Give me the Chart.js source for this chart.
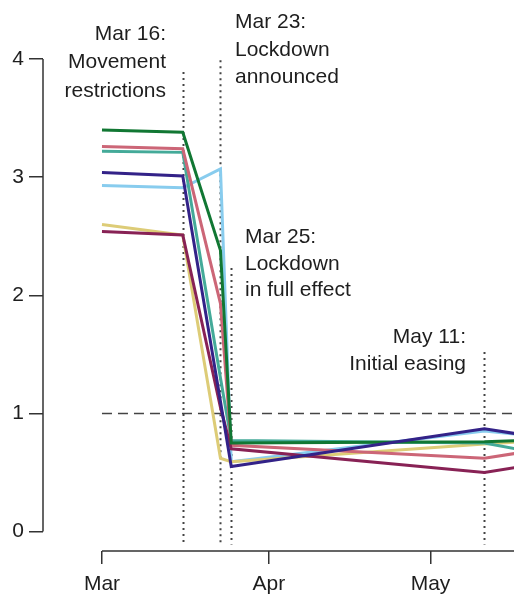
<!DOCTYPE html>
<html>
<head>
<meta charset="utf-8">
<script src="https://cdn.jsdelivr.net/npm/chart.js@4"></script>
<style>
  html, body { margin: 0; padding: 0; background: #fff; }
  #wrap { width: 514px; height: 600px; position: relative; }
</style>
</head>
<body>
<div id="wrap"><canvas id="chart"></canvas></div>
<script>
// days counted from Mar 1 (= 0)
const days = [0, 15, 22, 24, 71, 78];

// one series per region
const green  = [3.40, 3.38, 2.38, 0.75, 0.76, 0.77];
const rose   = [3.26, 3.24, 1.93, 0.73, 0.62, 0.67];
const teal   = [3.22, 3.21, 1.30, 0.77, 0.75, 0.69];
const indigo = [3.04, 3.01, 1.10, 0.55, 0.87, 0.82];
const cyan   = [2.93, 2.91, 3.07, 0.59, 0.85, 0.82];
const sand   = [2.60, 2.51, 0.62, 0.59, 0.74, 0.76];
const wine   = [2.54, 2.51, 1.05, 0.70, 0.50, 0.55];

// axis ticks
const yTicks = [0, 1, 2, 3, 4];
const xTicks = [0, 31, 61];
const xTickLabels = ["Mar", "Apr", "May"];

// events (vertical dotted lines) and their notes
const eventDays = [15, 22, 24, 71];
const eventTops = [3.89, 3.99, 2.23, 1.52];
const threshold = 1;

const FONT = "Liberation Sans, Arial, Helvetica, sans-serif";
const INK = "#1e1e1e";

function toPoints(vals) {
  return vals.map((v, i) => ({ x: days[i], y: v }));
}

// first dataset ends up on top
const series = [
  { data: indigo, color: "#332288" },
  { data: green, color: "#117733" },
  { data: wine, color: "#882255" },
  { data: rose, color: "#CC6677" },
  { data: teal, color: "#44AA99" },
  { data: sand, color: "#DDCC77" },
  { data: cyan, color: "#88CCEE" },
];

// dashed line, dotted event lines, detached axis lines and the notes
const notesPlugin = {
  id: "notes",
  beforeDatasetsDraw(chart) {
    const ctx = chart.ctx;
    const x = chart.scales.x;
    const y = chart.scales.y;
    ctx.save();

    // horizontal dashed line at 1
    ctx.strokeStyle = "#444";
    ctx.lineWidth = 1.5;
    ctx.setLineDash([10, 6]);
    ctx.beginPath();
    ctx.moveTo(x.getPixelForValue(0), y.getPixelForValue(threshold));
    ctx.lineTo(chart.chartArea.right, y.getPixelForValue(threshold));
    ctx.stroke();

    // dotted vertical lines
    ctx.lineWidth = 2;
    ctx.setLineDash([2, 4]);
    eventDays.forEach((d, i) => {
      const px = Math.round(x.getPixelForValue(d)) + 0.5;
      ctx.beginPath();
      ctx.moveTo(px, y.getPixelForValue(eventTops[i]));
      ctx.lineTo(px, y.getPixelForValue(-0.11));
      ctx.stroke();
    });
    ctx.restore();
  },
  afterDraw(chart) {
    const ctx = chart.ctx;
    const x = chart.scales.x;
    const y = chart.scales.y;
    const area = chart.chartArea;
    ctx.save();

    // axis lines only between first and last tick, R style
    ctx.strokeStyle = "#333";
    ctx.lineWidth = 1.5;
    ctx.beginPath();
    ctx.moveTo(area.left, y.getPixelForValue(0));
    ctx.lineTo(area.left, y.getPixelForValue(4));
    ctx.moveTo(x.getPixelForValue(0), area.bottom);
    ctx.lineTo(area.right, area.bottom);
    ctx.stroke();

    // notes
    ctx.fillStyle = INK;
    ctx.font = "21px " + FONT;
    ctx.textBaseline = "alphabetic";

    ctx.textAlign = "right";
    ["Mar 16:", "Movement", "restrictions"].forEach((t, i) => ctx.fillText(t, 166, 40 + i * 28.3));
    ["May 11:", "Initial easing"].forEach((t, i) => ctx.fillText(t, 466, 343 + i * 26.5));

    ctx.textAlign = "left";
    ["Mar 23:", "Lockdown", "announced"].forEach((t, i) => ctx.fillText(t, 235, 28 + i * 27.5));
    ["Mar 25:", "Lockdown", "in full effect"].forEach((t, i) => ctx.fillText(t, 245, 243 + i * 26.5));

    ctx.restore();
  },
};

new Chart(document.getElementById("chart"), {
  type: "line",
  data: {
    datasets: series.map((s) => ({
      data: toPoints(s.data),
      borderColor: s.color,
      backgroundColor: s.color,
      borderWidth: 3,
      pointRadius: 0,
      tension: 0,
      fill: false,
    })),
  },
  options: {
    responsive: true,
    maintainAspectRatio: false,
    devicePixelRatio: 1,
    animation: false,
    layout: { padding: 0 },
    plugins: {
      legend: { display: false },
      tooltip: { enabled: false },
    },
    scales: {
      x: {
        type: "linear",
        min: -10.95,
        max: 76.5,
        afterBuildTicks: (scale) => {
          scale.ticks = xTicks.map((v) => ({ value: v }));
        },
        afterFit: (scale) => {
          scale.height = 49;
          scale.paddingLeft = 0;
          scale.paddingRight = 0;
        },
        border: { display: false },
        grid: {
          drawOnChartArea: false,
          drawTicks: true,
          tickLength: 13,
          color: "#333",
          lineWidth: 1.5,
        },
        ticks: {
          padding: 8,
          color: INK,
          font: { family: FONT, size: 21 },
          maxRotation: 0,
          autoSkip: false,
          callback: (v) => xTickLabels[xTicks.indexOf(v)],
        },
      },
      y: {
        min: -0.165,
        max: 4.5,
        afterBuildTicks: (scale) => {
          scale.ticks = yTicks.map((v) => ({ value: v }));
        },
        afterFit: (scale) => {
          scale.width = 43;
          scale.paddingTop = 0;
          scale.paddingBottom = 0;
        },
        border: { display: false },
        grid: {
          drawOnChartArea: false,
          drawTicks: true,
          tickLength: 14,
          color: "#333",
          lineWidth: 1.5,
        },
        ticks: {
          padding: 5,
          color: INK,
          font: { family: FONT, size: 21 },
          autoSkip: false,
        },
      },
    },
  },
  plugins: [notesPlugin],
});
</script>
</body>
</html>
